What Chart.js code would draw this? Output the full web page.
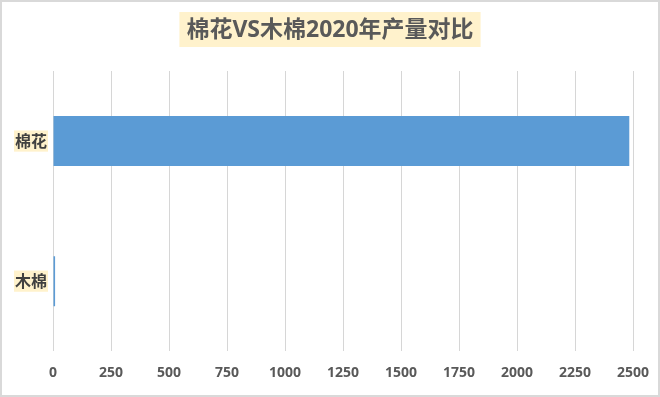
<!DOCTYPE html>
<html>
<head>
<meta charset="utf-8">
<script src="https://cdn.jsdelivr.net/npm/chart.js@4"></script>
<style>
  body { margin: 0; background: #fff; }
  .moldura {
    position: absolute; left: 0; top: 0;
    width: 660px; height: 397px;
    box-sizing: border-box;
    border: 2px solid #d9d9d9;
  }
  canvas { display: block; }
</style>
</head>
<body>
<div class="moldura">
  <canvas data-js="grafico-algodao" width="656" height="393"></canvas>
</div>
<script>
const categorias = ['棉花', '木棉'];
const producao2020 = [2484, 9];
const eixoMin = 0;
const eixoMax = 2500;
const passoEixo = 250;

const titulo = '棉花VS木棉2020年产量对比';
const fonteTitulo = "bold 23px 'Open Sans', 'Noto Sans CJK SC', sans-serif";

// título centrado no canvas, com fundo amarelo
const tituloCentrado = {
    id: 'tituloCentrado',
    afterDraw(chart) {
        const ctx = chart.ctx;
        const centro = chart.width / 2;
        ctx.save();
        ctx.font = fonteTitulo;
        const largura = ctx.measureText(titulo).width + 14;
        ctx.fillStyle = '#FFF2CC';
        ctx.fillRect(centro - largura / 2, 10, largura, 35);
        ctx.fillStyle = '#595959';
        ctx.textAlign = 'center';
        ctx.textBaseline = 'middle';
        ctx.fillText(titulo, centro, 28);
        ctx.restore();
    }
};

const elemento = document.querySelector('[data-js="grafico-algodao"]');

const grafico = new Chart(elemento, {
    type: 'bar',
    data: {
        labels: categorias,
        datasets: [{
            label: '产量',
            data: producao2020,
            backgroundColor: '#5B9BD5',
            borderWidth: 0,
            categoryPercentage: 1,
            barPercentage: 0.357
        }]
    },
    options: {
        indexAxis: 'y',
        responsive: false,
        animation: false,
        events: [],
        layout: { autoPadding: false, padding: { left: 12, right: 25, top: 69, bottom: 1 } },
        plugins: {
            legend: { display: false },
            tooltip: { enabled: false },
            title: { display: false }
        },
        scales: {
            x: {
                min: eixoMin,
                max: eixoMax,
                border: { display: false },
                grid: { color: '#d6d6d6', lineWidth: 1, drawTicks: false },
                // o rótulo 2500 já cabe na margem direita
                afterFit: (escala) => { escala.paddingLeft = 0; escala.paddingRight = 0; },
                ticks: {
                    stepSize: passoEixo,
                    padding: 13,
                    color: '#595959',
                    font: { family: "'Open Sans', sans-serif", size: 14, weight: 'bold' },
                    callback: (valor) => String(valor)
                }
            },
            y: {
                border: { display: false },
                grid: { display: false, drawTicks: false },
                afterFit: (escala) => { escala.width = 39; },
                ticks: {
                    padding: 6,
                    color: '#404040',
                    font: { family: "'Noto Sans CJK SC', sans-serif", size: 16, weight: 'bold' },
                    showLabelBackdrop: true,
                    backdropColor: '#FFF2CC',
                    backdropPadding: 1
                }
            }
        }
    },
    plugins: [tituloCentrado]
});
</script>
</body>
</html>
